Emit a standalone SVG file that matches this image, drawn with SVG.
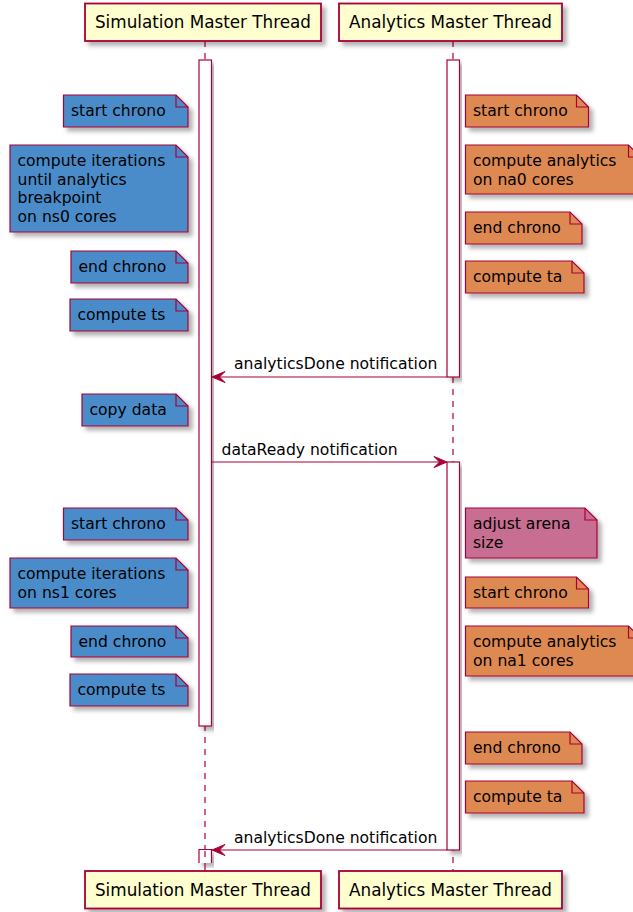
<svg xmlns="http://www.w3.org/2000/svg" width="633" height="912" viewBox="0 0 633 912">
<style>
text{font-family:"DejaVu Sans","Liberation Sans",sans-serif;fill:#000}
.pt{font-size:16.8px}
.nt{font-size:15.6px}
.mt{font-size:15.6px}
.part{fill:#FEFECE;stroke:#A80036;stroke-width:1.8}
.life{stroke:#A80036;stroke-width:1.2;stroke-dasharray:6,6;fill:none}
.act{fill:#FFFFFF;stroke:#A80036;stroke-width:1.2}
.note{stroke:#A80036;stroke-width:1.2}
.blue{fill:#4A8CC9}
.orange{fill:#DE8951}
.pink{fill:#C86E93}
.fold{fill:none;stroke:#A80036;stroke-width:1.2}
.msg{stroke:#A80036;stroke-width:1.2;fill:none}
.head{fill:#A80036;stroke:#A80036;stroke-width:1}
</style>
<defs>
<filter id="sh" x="-10%" y="-10%" width="130%" height="140%">
<feDropShadow dx="4" dy="4" stdDeviation="2" flood-color="#000" flood-opacity="0.3"/>
</filter>
</defs>

<g id="lifelines">
<line class="life" x1="205" y1="41" x2="205" y2="871"/>
<line class="life" x1="453" y1="41" x2="453" y2="871"/>
</g>

<g id="participant-sim-top">
<rect class="part" x="85" y="3.5" width="236" height="37.5" filter="url(#sh)"/>
<text class="pt" x="203" y="28" text-anchor="middle">Simulation Master Thread</text>
</g>
<g id="participant-ana-top">
<rect class="part" x="339" y="3.5" width="223" height="37.5" filter="url(#sh)"/>
<text class="pt" x="450.5" y="28" text-anchor="middle">Analytics Master Thread</text>
</g>
<g id="participant-sim-bottom">
<rect class="part" x="85" y="871" width="236" height="37.5" filter="url(#sh)"/>
<text class="pt" x="203" y="896" text-anchor="middle">Simulation Master Thread</text>
</g>
<g id="participant-ana-bottom">
<rect class="part" x="339" y="871" width="223" height="37.5" filter="url(#sh)"/>
<text class="pt" x="450.5" y="896" text-anchor="middle">Analytics Master Thread</text>
</g>

<g id="activations">
<rect class="act" x="199" y="60" width="12.5" height="666" filter="url(#sh)"/>
<rect class="act" x="447" y="60" width="12.5" height="317" filter="url(#sh)"/>
<rect class="act" x="447" y="462" width="12.5" height="388" filter="url(#sh)"/>
<path class="act" d="M199,863 V849.5 H211.5 V863" filter="url(#sh)"/>
<line class="life" x1="205" y1="851" x2="205" y2="871"/>
</g>

<g id="connectors">
<g id="msg1">
<line class="msg" x1="447" y1="377" x2="214" y2="377"/>
<polygon class="head" points="212,377 225,371.5 219.5,377 225,382.5"/>
<text class="mt" x="234" y="369">analyticsDone notification</text>
</g>
<g id="msg2">
<line class="msg" x1="212" y1="462" x2="445" y2="462"/>
<polygon class="head" points="447,462 434,456.5 439.5,462 434,467.5"/>
<text class="mt" x="221.5" y="455">dataReady notification</text>
</g>
<g id="msg3">
<line class="msg" x1="447" y1="850" x2="214" y2="850"/>
<polygon class="head" points="212,850 225,844.5 219.5,850 225,855.5"/>
<text class="mt" x="234" y="843">analyticsDone notification</text>
</g>
</g>

<!-- left notes -->
<g id="note-s-start1">
<path class="note blue" d="M63.5,95 H176 L188,107 V127 H63.5 Z" filter="url(#sh)"/>
<path class="fold" d="M176,95 V107 H188"/>
<text class="nt" x="71" y="116">start chrono</text>
</g>
<g id="note-s-compute1">
<path class="note blue" d="M10,145 H176 L188,157 V232 H10 Z" filter="url(#sh)"/>
<path class="fold" d="M176,145 V157 H188"/>
<text class="nt" x="17.5" y="166">compute iterations</text>
<text class="nt" x="17.5" y="184.7">until analytics</text>
<text class="nt" x="17.5" y="203.4">breakpoint</text>
<text class="nt" x="17.5" y="222.1">on ns0 cores</text>
</g>
<g id="note-s-end1">
<path class="note blue" d="M71,251 H176 L188,263 V283 H71 Z" filter="url(#sh)"/>
<path class="fold" d="M176,251 V263 H188"/>
<text class="nt" x="78.5" y="272">end chrono</text>
</g>
<g id="note-s-ts1">
<path class="note blue" d="M70,299 H176 L188,311 V331 H70 Z" filter="url(#sh)"/>
<path class="fold" d="M176,299 V311 H188"/>
<text class="nt" x="77.5" y="320">compute ts</text>
</g>
<g id="note-s-copy">
<path class="note blue" d="M82,394 H176 L188,406 V426 H82 Z" filter="url(#sh)"/>
<path class="fold" d="M176,394 V406 H188"/>
<text class="nt" x="89.5" y="415">copy data</text>
</g>
<g id="note-s-start2">
<path class="note blue" d="M63.5,508 H176 L188,520 V540 H63.5 Z" filter="url(#sh)"/>
<path class="fold" d="M176,508 V520 H188"/>
<text class="nt" x="71" y="529">start chrono</text>
</g>
<g id="note-s-compute2">
<path class="note blue" d="M10,558 H176 L188,570 V608 H10 Z" filter="url(#sh)"/>
<path class="fold" d="M176,558 V570 H188"/>
<text class="nt" x="17.5" y="579">compute iterations</text>
<text class="nt" x="17.5" y="597.7">on ns1 cores</text>
</g>
<g id="note-s-end2">
<path class="note blue" d="M71,626 H176 L188,638 V657 H71 Z" filter="url(#sh)"/>
<path class="fold" d="M176,626 V638 H188"/>
<text class="nt" x="78.5" y="646.5">end chrono</text>
</g>
<g id="note-s-ts2">
<path class="note blue" d="M70,674 H176 L188,686 V706 H70 Z" filter="url(#sh)"/>
<path class="fold" d="M176,674 V686 H188"/>
<text class="nt" x="77.5" y="695">compute ts</text>
</g>

<!-- right notes -->
<g id="note-a-start1">
<path class="note orange" d="M465.5,95 H576.5 L588.5,107 V127 H465.5 Z" filter="url(#sh)"/>
<path class="fold" d="M576.5,95 V107 H588.5"/>
<text class="nt" x="473" y="116">start chrono</text>
</g>
<g id="note-a-compute1">
<path class="note orange" d="M465.5,145 H628.5 L640.5,157 V194 H465.5 Z" filter="url(#sh)"/>
<path class="fold" d="M628.5,145 V157 H640.5"/>
<text class="nt" x="473" y="166">compute analytics</text>
<text class="nt" x="473" y="184.7">on na0 cores</text>
</g>
<g id="note-a-end1">
<path class="note orange" d="M465.5,212 H570 L582,224 V244 H465.5 Z" filter="url(#sh)"/>
<path class="fold" d="M570,212 V224 H582"/>
<text class="nt" x="473" y="233">end chrono</text>
</g>
<g id="note-a-ta1">
<path class="note orange" d="M465.5,261 H572 L584,273 V293 H465.5 Z" filter="url(#sh)"/>
<path class="fold" d="M572,261 V273 H584"/>
<text class="nt" x="473" y="282">compute ta</text>
</g>
<g id="note-a-arena">
<path class="note pink" d="M465.5,508 H585 L597,520 V558 H465.5 Z" filter="url(#sh)"/>
<path class="fold" d="M585,508 V520 H597"/>
<text class="nt" x="473" y="529">adjust arena</text>
<text class="nt" x="473" y="547.7">size</text>
</g>
<g id="note-a-start2">
<path class="note orange" d="M465.5,577 H576.5 L588.5,589 V608 H465.5 Z" filter="url(#sh)"/>
<path class="fold" d="M576.5,577 V589 H588.5"/>
<text class="nt" x="473" y="597.5">start chrono</text>
</g>
<g id="note-a-compute2">
<path class="note orange" d="M465.5,626 H628.5 L640.5,638 V676 H465.5 Z" filter="url(#sh)"/>
<path class="fold" d="M628.5,626 V638 H640.5"/>
<text class="nt" x="473" y="647">compute analytics</text>
<text class="nt" x="473" y="665.7">on na1 cores</text>
</g>
<g id="note-a-end2">
<path class="note orange" d="M465.5,732 H570 L582,744 V764 H465.5 Z" filter="url(#sh)"/>
<path class="fold" d="M570,732 V744 H582"/>
<text class="nt" x="473" y="753">end chrono</text>
</g>
<g id="note-a-ta2">
<path class="note orange" d="M465.5,781 H572 L584,793 V813 H465.5 Z" filter="url(#sh)"/>
<path class="fold" d="M572,781 V793 H584"/>
<text class="nt" x="473" y="802">compute ta</text>
</g>
</svg>
